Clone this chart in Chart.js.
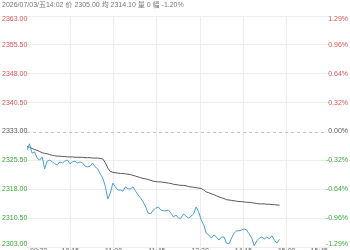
<!DOCTYPE html>
<html>
<head>
<meta charset="utf-8">
<script src="https://cdn.jsdelivr.net/npm/chart.js@4"></script>
<style>
  html, body { margin: 0; padding: 0; background: #fff; overflow: hidden; }
  #wrap { width: 350px; height: 262px; }
</style>
</head>
<body>
<div id="wrap"><canvas id="grafico" width="350" height="262"></canvas></div>
<script>
const cabecera = "2026/07/03/五14:02 价 2305.00 均 2314.10 量 0 幅 -1.20%";
const cierreAnterior = 2333;
const ticksPrecio = [2303, 2310.5, 2318, 2325.5, 2333, 2340.5, 2348, 2355.5, 2363];
const etiquetasPct = ["-1.29%", "-0.96%", "-0.64%", "-0.32%", "0.00%", "0.32%", "0.64%", "0.96%", "1.29%"];
const etiquetasHora = ["09:30", "10:15", "11:00", "11:45", "13:30", "14:15", "15:00", "15:45"];
const totalMinutos = 240;
const paso = 2;

const precios = [
  2328.2, 2329.8, 2327.4, 2327.7, 2326.1, 2325.6, 2326.4, 2323.3, 2325.3, 2325.6,
  2325.1, 2324.6, 2324.3, 2325.1, 2324.8, 2325.3, 2325.6, 2324.6, 2325.1, 2325.3,
  2324.8, 2325.1, 2324.8, 2324.0, 2323.8, 2324.0, 2324.8, 2323.8, 2323.3, 2322.0,
  2320.9, 2318.8, 2315.5, 2317.0, 2319.6, 2318.6, 2317.8, 2317.8, 2317.5, 2318.6,
  2318.1, 2318.1, 2318.6, 2317.5, 2316.5, 2315.7, 2314.7, 2313.4, 2311.8, 2311.6,
  2312.6, 2313.1, 2313.4, 2312.6, 2312.4, 2312.4, 2312.6, 2311.8, 2310.8, 2311.3,
  2310.5, 2310.5, 2311.6, 2311.0, 2310.5, 2311.0, 2311.6, 2313.4, 2312.1, 2310.0,
  2308.7, 2306.6, 2306.1, 2305.3, 2306.1, 2305.6, 2304.8, 2305.6, 2305.6, 2304.0,
  2303.8, 2305.3, 2306.6, 2307.2, 2307.2, 2307.4, 2307.7, 2307.4, 2306.4, 2305.3,
  2303.3, 2304.6, 2305.3, 2305.6, 2305.1, 2305.6, 2305.1, 2305.9, 2304.8, 2304.0,
  2305.0
];

const promedios = [
  2329.1, 2328.9, 2328.6, 2328.3, 2328.1, 2327.8, 2327.5, 2327.3, 2327.2, 2327.0,
  2326.8, 2326.7, 2326.6, 2326.6, 2326.5, 2326.5, 2326.4, 2326.4, 2326.4, 2326.3,
  2326.3, 2326.3, 2326.3, 2326.2, 2326.2, 2326.2, 2326.1, 2326.1, 2326.1, 2326.0,
  2325.9, 2324.9, 2323.5, 2322.6, 2322.4, 2322.3, 2322.2, 2322.1, 2322.1, 2322.0,
  2321.9, 2321.8, 2321.6, 2321.4, 2321.2, 2321.0, 2320.8, 2320.7, 2320.5, 2320.3,
  2320.1, 2320.0, 2319.9, 2319.9, 2319.8, 2319.7, 2319.6, 2319.5, 2319.3, 2319.2,
  2319.1, 2319.0, 2319.0, 2318.9, 2318.7, 2318.6, 2318.5, 2318.4, 2318.3, 2318.2,
  2317.8, 2317.3, 2317.1, 2316.8, 2316.6, 2316.3, 2316.0, 2315.8, 2315.6, 2315.3,
  2315.2, 2315.1, 2315.0, 2314.9, 2314.8, 2314.8, 2314.7, 2314.6, 2314.6, 2314.5,
  2314.4, 2314.3, 2314.2, 2314.2, 2314.2, 2314.1, 2314.1, 2314.0, 2314.0, 2313.9,
  2313.9
];

const FUENTE = '7px "Liberation Sans", "Noto Sans CJK SC", sans-serif';
const ROJO = "#e05252";
const VERDE = "#3aa63a";
const GRIS = "#555";

function colorPorValor(v) {
  if (v > cierreAnterior) return ROJO;
  if (v < cierreAnterior) return VERDE;
  return GRIS;
}

const etiquetasPlugin = {
  id: "etiquetas",
  afterDraw(chart) {
    const ctx = chart.ctx;
    const area = chart.chartArea;
    const y = chart.scales.y;
    const x = chart.scales.x;
    ctx.save();
    ctx.font = FUENTE;

    // línea discontinua del cierre anterior
    const yBase = Math.round(y.getPixelForValue(cierreAnterior)) + 0.5;
    ctx.strokeStyle = "#c4c4c4";
    ctx.lineWidth = 1;
    ctx.setLineDash([3, 3]);
    ctx.beginPath();
    ctx.moveTo(area.left, yBase);
    ctx.lineTo(area.right - 3, yBase);
    ctx.stroke();
    ctx.setLineDash([]);

    ctx.textBaseline = "middle";
    ticksPrecio.forEach((v, i) => {
      let py = y.getPixelForValue(v);
      py = Math.min(Math.max(py, area.top + 3), area.bottom - 3);
      ctx.fillStyle = colorPorValor(v);
      ctx.textAlign = "left";
      ctx.fillText(v.toFixed(2), 2, py);
      ctx.textAlign = "right";
      ctx.fillText(etiquetasPct[i], 348, py);
    });

    // cabecera
    ctx.fillStyle = "#777";
    ctx.textAlign = "left";
    ctx.fillText(cabecera, 2, 5);

    // horas (cortadas por el borde inferior)
    ctx.fillStyle = "#666";
    ctx.textBaseline = "top";
    etiquetasHora.forEach((t, i) => {
      const px = x.getPixelForValue(totalMinutos / (etiquetasHora.length - 1) * i);
      if (i === 0) ctx.textAlign = "left";
      else if (i === etiquetasHora.length - 1) ctx.textAlign = "right";
      else ctx.textAlign = "center";
      ctx.fillText(t, i === 0 ? px + 3 : (i === etiquetasHora.length - 1 ? px - 2 : px), area.bottom + 1);
    });
    ctx.restore();
  }
};

new Chart(document.getElementById("grafico"), {
  type: "line",
  data: {
    datasets: [
      {
        label: "价",
        data: precios.map((v, i) => ({ x: i * paso, y: v })),
        borderColor: "#4b9fd5",
        borderWidth: 1,
        pointRadius: 0,
        tension: 0
      },
      {
        label: "均",
        data: promedios.map((v, i) => ({ x: i * paso, y: v })),
        borderColor: "#555",
        borderWidth: 1,
        pointRadius: 0,
        tension: 0
      }
    ]
  },
  options: {
    responsive: false,
    animation: false,
    layout: { padding: { left: 27, right: 20, top: 16, bottom: 15 } },
    plugins: { legend: { display: false }, tooltip: { enabled: false } },
    scales: {
      x: {
        type: "linear",
        min: 0,
        max: totalMinutos,
        afterBuildTicks: (s) => {
          s.ticks = etiquetasHora.map((t, i) => ({ value: totalMinutos / (etiquetasHora.length - 1) * i }));
        },
        ticks: { display: false },
        grid: {
          drawTicks: false,
          color: (c) => (c.index === 0 || c.index === etiquetasHora.length - 1) ? "rgba(0,0,0,0)" : "#ededed"
        },
        border: { display: false }
      },
      y: {
        min: ticksPrecio[0],
        max: ticksPrecio[ticksPrecio.length - 1],
        afterBuildTicks: (s) => {
          s.ticks = ticksPrecio.map(v => ({ value: v }));
        },
        ticks: { display: false },
        grid: {
          drawTicks: false,
          color: (c) => c.tick && c.tick.value === cierreAnterior ? "rgba(0,0,0,0)" : "#ededed"
        },
        border: { display: false }
      }
    }
  },
  plugins: [etiquetasPlugin]
});
</script>
</body>
</html>
